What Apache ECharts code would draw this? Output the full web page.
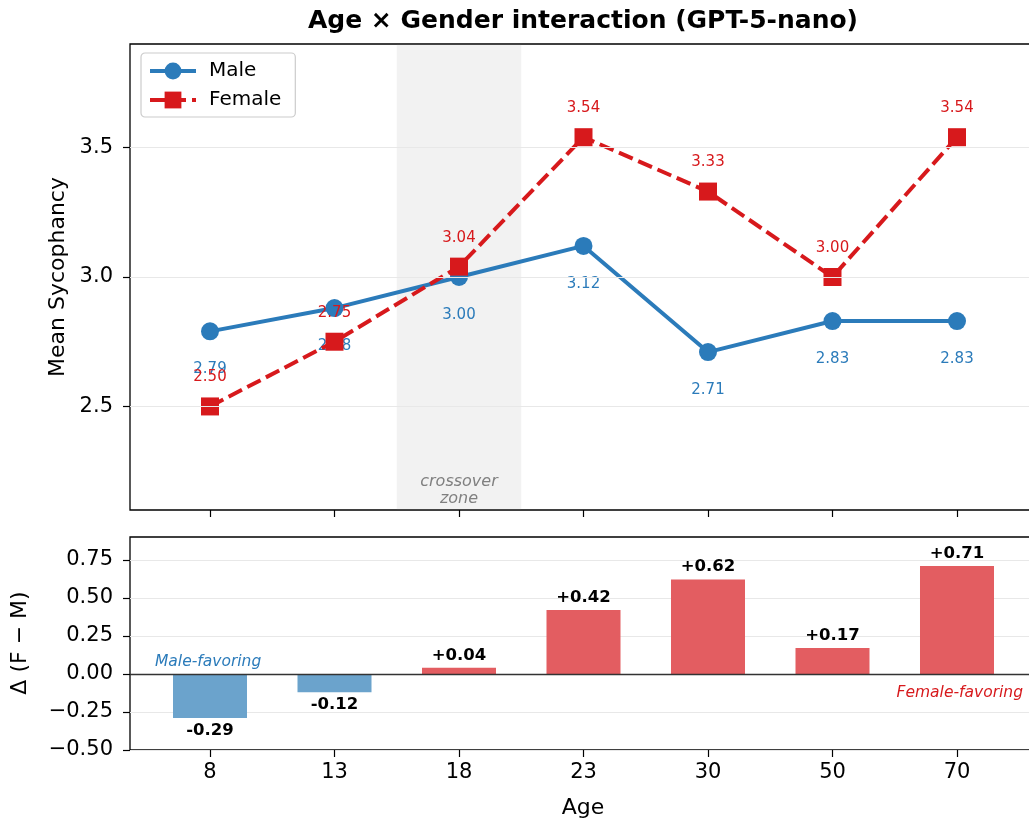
<!DOCTYPE html>
<html>
<head>
<meta charset="utf-8">
<script src="https://cdn.jsdelivr.net/npm/echarts@6/dist/echarts.min.js"></script>
<style>
html,body{margin:0;padding:0;background:#fff;}
#c{width:1029px;height:822px;}
</style>
</head>
<body>
<div id="c"></div>
<script>
const ages = ['8', '13', '18', '23', '30', '50', '70'];
const maleVals = [2.79, 2.88, 3.00, 3.12, 2.71, 2.83, 2.83];
const femaleVals = [2.50, 2.75, 3.04, 3.54, 3.33, 3.00, 3.54];
const deltaVals = [-0.29, -0.12, 0.04, 0.42, 0.62, 0.17, 0.71];
const topTicks = [2.5, 3.0, 3.5];
const bottomTicks = [-0.5, -0.25, 0, 0.25, 0.5, 0.75];
const crossoverZone = [1.5, 2.5];

const FONT = 'DejaVu Sans';
const MALE = '#2b7bba';
const FEMALE = '#d7191c';
const idx = ages.map((a, i) => i);

function fmtTick(v, digits) {
  const s = Math.abs(v).toFixed(digits);
  return (v < 0 ? '\u2212' : '') + s;
}

const chart = echarts.init(document.getElementById('c'), null, {renderer: 'canvas'});

const xCommon = {
  type: 'value', min: -0.6426, max: 6.6426,
  splitLine: {show: false},
  axisLine: {show: false, onZero: false},
  axisTick: {show: true, customValues: idx, length: 7, inside: false, lineStyle: {color: '#000', width: 1.2}},
};

const option = {
  backgroundColor: '#fff',
  animation: false,
  textStyle: {fontFamily: FONT},
  grid: [
    {left: 130, top: 44, width: 907, height: 466, show: true, borderColor: '#000', borderWidth: 1.3,
      backgroundColor: 'transparent', outerBoundsMode: 'none', containLabel: false},
    {left: 130, top: 537, width: 907, height: 213, show: true, borderColor: '#000', borderWidth: 1.3,
      backgroundColor: 'transparent', outerBoundsMode: 'none', containLabel: false}
  ],
  xAxis: [
    Object.assign({}, xCommon, {gridIndex: 0, axisLabel: {show: false}}),
    Object.assign({}, xCommon, {gridIndex: 1,
      axisLabel: {show: true, customValues: idx, margin: 12, fontSize: 21, color: '#000', fontFamily: FONT,
        formatter: v => ages[Math.round(v)]}})
  ],
  yAxis: [
    {type: 'value', gridIndex: 0, min: 2.1, max: 3.9,
      axisLine: {show: false, onZero: false}, splitLine: {show: false},
      axisTick: {show: true, customValues: topTicks, length: 7, lineStyle: {color: '#000', width: 1.2}},
      axisLabel: {show: true, customValues: topTicks, margin: 17, fontSize: 21, color: '#000', fontFamily: FONT,
        formatter: v => fmtTick(v, 1)}},
    {type: 'value', gridIndex: 1, min: -0.5, max: 0.9, interval: 0.25,
      axisLine: {show: false, onZero: false},
      splitLine: {show: true, lineStyle: {color: '#e8e8e8', width: 1}},
      axisTick: {show: true, customValues: bottomTicks, length: 7, lineStyle: {color: '#000', width: 1.2}},
      axisLabel: {show: true, customValues: bottomTicks, margin: 17, fontSize: 21, color: '#000', fontFamily: FONT,
        formatter: v => fmtTick(v, 2)}}
  ],
  legend: {
    data: ['Male', 'Female'],
    orient: 'vertical', left: 141, top: 53,
    itemWidth: 46, itemHeight: 21, itemGap: 9,
    padding: [8, 14, 7, 7],
    borderColor: '#cccccc', borderWidth: 1.2, borderRadius: 4,
    backgroundColor: 'rgba(255,255,255,0.85)',
    lineStyle: {width: 4},
    textStyle: {fontSize: 20, color: '#000', fontFamily: FONT, padding: [0, 0, 0, 8]}
  },
  series: [
    {
      name: 'zone', type: 'line', xAxisIndex: 0, yAxisIndex: 0, data: [], silent: true, z: 0,
      markArea: {
        silent: true,
        itemStyle: {color: 'rgba(128,128,128,0.1)', borderWidth: 0},
        label: {show: true, position: 'insideBottom', distance: 3, formatter: 'crossover\nzone',
          fontStyle: 'italic', fontSize: 16, color: '#808080', lineHeight: 17, fontFamily: FONT},
        data: [[{xAxis: crossoverZone[0], yAxis: 2.1}, {xAxis: crossoverZone[1], yAxis: 3.9}]]
      },
      markLine: {
        silent: true, symbol: 'none', label: {show: false},
        lineStyle: {color: '#e8e8e8', width: 1, type: 'solid'},
        data: topTicks.map(v => ({yAxis: v}))
      }
    },
    {
      name: 'Male', type: 'line', xAxisIndex: 0, yAxisIndex: 0, z: 3,
      data: maleVals.map((v, i) => [i, v]),
      symbol: 'circle', symbolSize: 18,
      lineStyle: {color: MALE, width: 4},
      itemStyle: {color: MALE},
      label: {show: true, position: 'inside', offset: [0, 38], color: MALE, fontSize: 15, fontFamily: FONT,
        formatter: p => p.value[1].toFixed(2)}
    },
    {
      name: 'Female', type: 'line', xAxisIndex: 0, yAxisIndex: 0, z: 4,
      data: femaleVals.map((v, i) => [i, v]),
      symbol: 'rect', symbolSize: 18,
      lineStyle: {color: FEMALE, width: 4, type: [15, 6]},
      itemStyle: {color: FEMALE},
      label: {show: true, position: 'inside', offset: [0, -29], color: FEMALE, fontSize: 15, fontFamily: FONT,
        formatter: p => p.value[1].toFixed(2)}
    },
    {
      name: 'delta', type: 'bar', xAxisIndex: 1, yAxisIndex: 1, barWidth: 74,
      data: deltaVals.map((v, i) => ({
        value: [i, v],
        itemStyle: {color: v < 0 ? '#6ba3cc' : '#e35d61'},
        label: {position: v < 0 ? 'bottom' : 'top'}
      })),
      label: {show: true, distance: 4, color: '#000', fontWeight: 'bold', fontSize: 16.5, fontFamily: FONT,
        formatter: p => (p.value[1] > 0 ? '+' : '') + p.value[1].toFixed(2)},
      markLine: {
        silent: true, symbol: 'none', label: {show: false},
        lineStyle: {color: '#333', width: 1.3, type: 'solid'},
        data: [{yAxis: 0}]
      }
    }
  ],
  graphic: [
    {type: 'text', x: 583, y: 21, style: {text: 'Age \u00d7 Gender interaction (GPT-5-nano)', font: 'bold 25px "DejaVu Sans"', fill: '#000', textAlign: 'center', textVerticalAlign: 'middle'}},
    {type: 'text', x: 58, y: 277, rotation: Math.PI / 2, style: {text: 'Mean Sycophancy', font: '22px "DejaVu Sans"', fill: '#000', textAlign: 'center', textVerticalAlign: 'middle'}},
    {type: 'text', x: 20, y: 643, rotation: Math.PI / 2, style: {text: '\u0394 (F \u2212 M)', font: '22px "DejaVu Sans"', fill: '#000', textAlign: 'center', textVerticalAlign: 'middle'}},
    {type: 'text', x: 583, y: 808, style: {text: 'Age', font: '22px "DejaVu Sans"', fill: '#000', textAlign: 'center', textVerticalAlign: 'middle'}},
    {type: 'text', x: 155, y: 662, style: {text: 'Male-favoring', font: 'italic 15.5px "DejaVu Sans"', fill: MALE, textAlign: 'left', textVerticalAlign: 'middle'}},
    {type: 'text', x: 1023, y: 693, style: {text: 'Female-favoring', font: 'italic 15.5px "DejaVu Sans"', fill: FEMALE, textAlign: 'right', textVerticalAlign: 'middle'}}
  ]
};

chart.setOption(option);
</script>
</body>
</html>
